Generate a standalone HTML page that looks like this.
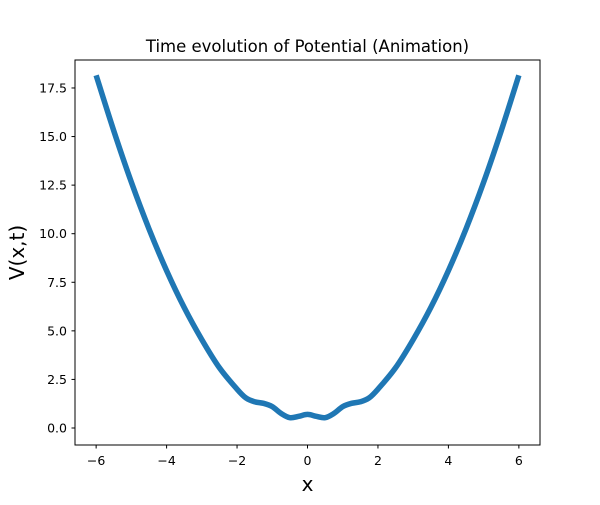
<!DOCTYPE html>
<html><head><meta charset="utf-8"><style>
body{margin:0;background:#fff;font-family:"Liberation Sans","DejaVu Sans",sans-serif}
svg text{font-family:"DejaVu Sans","Liberation Sans",sans-serif}
</style></head><body>
<svg id="c" width="600" height="500" xmlns="http://www.w3.org/2000/svg">
<rect width="600" height="500" fill="#fff"/>
<text x="307.5" y="52" text-anchor="middle" font-size="16.5">Time evolution of Potential (Animation)</text>
<g id="plot"></g>
<rect x="75" y="60" width="465" height="385" fill="none" stroke="#000" stroke-width="1"/>
<text x="307.5" y="491" text-anchor="middle" font-size="20">x</text>
<text transform="translate(24,252.5) rotate(-90)" text-anchor="middle" font-size="20">V(x,t)</text>
</svg>
<script>
const xs=[-6,-5.5,-5,-4.5,-4,-3.5,-3,-2.5,-2,-1.75,-1.5,-1.25,-1,-0.75,-0.5,-0.25,0,0.25,0.5,0.75,1,1.25,1.5,1.75,2,2.5,3,3.5,4,4.5,5,5.5,6];
const vs=[18.15,15.3,12.65,10.25,8.1,6.2,4.55,3.1,2.0,1.55,1.35,1.27,1.1,0.75,0.53,0.6,0.7,0.6,0.53,0.75,1.1,1.27,1.35,1.55,2.0,3.1,4.55,6.2,8.1,10.25,12.65,15.3,18.15];
const xTicks=[-6,-4,-2,0,2,4,6];
const yTicks=[0,2.5,5,7.5,10,12.5,15,17.5];
const NS="http://www.w3.org/2000/svg";
const X=v=>75+(v+6.6)/13.2*465;
const Y=v=>428-v*19.43;
const g=document.getElementById('plot');
function mk(t,a){const e=document.createElementNS(NS,t);for(const k in a)e.setAttribute(k,a[k]);return e;}
xTicks.forEach(t=>{
  const l=mk('line',{x1:X(t),x2:X(t),y1:445,y2:448.5,stroke:'#000'});
  
  
  g.appendChild(l);
  const tx=mk('text',{x:X(t),y:465,'text-anchor':'middle','font-size':'12.5'});
  tx.textContent=(t<0?'\u2212':'')+Math.abs(t);
  
  
  g.appendChild(tx);
});
yTicks.forEach(t=>{
  const l=mk('line',{x1:71.5,x2:75,y1:Y(t),y2:Y(t),stroke:'#000'});
  
  
  g.appendChild(l);
  const tx=mk('text',{x:67,y:Y(t)+4.5,'text-anchor':'end','font-size':'12.5'});
  tx.textContent=t.toFixed(1);
  
  
  g.appendChild(tx);
});
const P=xs.map((x,i)=>[X(x),Y(vs[i])]);
let d='M'+P[0][0]+','+P[0][1];
for(let i=0;i<P.length-1;i++){
  const p0=P[Math.max(0,i-1)],p1=P[i],p2=P[i+1],p3=P[Math.min(P.length-1,i+2)];
  const c1=[p1[0]+(p2[0]-p0[0])/6,p1[1]+(p2[1]-p0[1])/6];
  const c2=[p2[0]-(p3[0]-p1[0])/6,p2[1]-(p3[1]-p1[1])/6];
  d+=`C${c1[0]},${c1[1]} ${c2[0]},${c2[1]} ${p2[0]},${p2[1]}`;
}
const path=mk('path',{d:d,fill:'none',stroke:'#1f77b4','stroke-width':'5.5','stroke-linecap':'butt','stroke-linejoin':'round'});


g.appendChild(path);
</script>
</body></html>
